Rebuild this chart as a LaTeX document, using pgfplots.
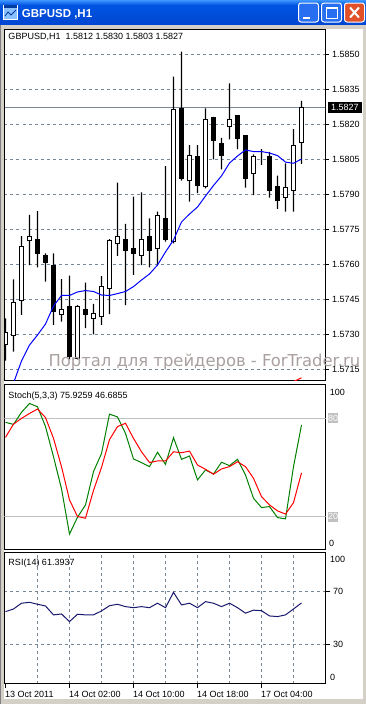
\documentclass[border=0pt]{standalone}
\usepackage{pgfplots}
\pgfplotsset{compat=1.18}
\usepackage{pgfplotstable}
\usepackage{fontspec}
\setmainfont{Liberation Sans}
\newfontfamily\wmfont{DejaVu Sans}
\definecolor{gridc}{RGB}{119,136,153}
\definecolor{framec}{RGB}{212,208,200}
\definecolor{stgreen}{RGB}{0,128,0}
\definecolor{stred}{RGB}{255,0,0}
\definecolor{mablue}{RGB}{0,0,255}
\definecolor{rsicol}{RGB}{25,25,112}
\definecolor{lvl}{RGB}{192,192,192}
\definecolor{wmc}{RGB}{170,160,160}
\definecolor{xpblue}{RGB}{0,84,227}
\definecolor{xplight}{RGB}{61,149,255}
\definecolor{xpdark}{RGB}{0,70,210}
\definecolor{xpbtn}{RGB}{40,110,240}
\definecolor{xpred}{RGB}{225,80,40}

\pgfplotstableread{
i O H L C
0 1.57260 1.57370 1.57190 1.57310
1 1.57298 1.57537 1.57228 1.57437
2 1.57446 1.57722 1.57385 1.57676
3 1.57701 1.57812 1.57598 1.57719
4 1.57708 1.57829 1.57588 1.57648
5 1.57640 1.57648 1.57527 1.57610
6 1.57598 1.57648 1.57342 1.57399
7 1.57388 1.57538 1.57356 1.57409
8 1.57420 1.57553 1.57195 1.57206
9 1.57200 1.57427 1.57195 1.57420
10 1.57410 1.57523 1.57328 1.57388
11 1.57370 1.57432 1.57302 1.57389
12 1.57380 1.57551 1.57342 1.57506
13 1.57499 1.57709 1.57388 1.57701
14 1.57691 1.57950 1.57637 1.57722
15 1.57708 1.57774 1.57427 1.57659
16 1.57670 1.57890 1.57556 1.57648
17 1.57640 1.57909 1.57598 1.57708
18 1.57722 1.57798 1.57588 1.57659
19 1.57668 1.57826 1.57598 1.57811
20 1.57798 1.58021 1.57698 1.57708
21 1.57698 1.58403 1.57691 1.58261
22 1.58268 1.58510 1.57959 1.57966
23 1.57959 1.58111 1.57869 1.58068
24 1.58061 1.58111 1.57905 1.57937
25 1.57932 1.58268 1.57926 1.58221
26 1.58229 1.58231 1.58050 1.58129
27 1.58118 1.58142 1.58007 1.58065
28 1.58189 1.58375 1.58135 1.58221
29 1.58239 1.58239 1.58094 1.58138
30 1.58150 1.58150 1.57929 1.57966
31 1.57990 1.58071 1.57897 1.58061
32 1.58051 1.58094 1.58026 1.58051
33 1.58061 1.58082 1.57886 1.57915
34 1.57933 1.57980 1.57838 1.57876
35 1.57886 1.58033 1.57826 1.57930
36 1.57916 1.58179 1.57826 1.58110
37 1.58120 1.58300 1.58030 1.58270
}\candles

\pgfplotstableread{
i ma k d rsi
0 1.57000 77.6 68.4 54.8
1 1.57094 76.3 76.5 56.8
2 1.57188 83.7 80.0 61.2
3 1.57256 89.1 83.0 61.9
4 1.57299 87.1 85.7 60.4
5 1.57346 75.0 80.5 59.1
6 1.57423 56.6 67.8 52.3
7 1.57468 37.0 50.5 53.0
8 1.57468 9.3 30.2 47.2
9 1.57483 19.6 20.0 52.8
10 1.57489 27.1 19.0 52.3
11 1.57485 47.5 36.0 52.3
12 1.57470 58.5 50.0 55.3
13 1.57468 82.6 67.0 59.3
14 1.57476 80.9 75.0 60.4
15 1.57485 70.8 77.0 58.6
16 1.57506 55.2 67.8 57.8
17 1.57534 53.0 59.6 58.6
18 1.57560 50.5 53.0 57.8
19 1.57598 59.3 54.0 61.2
20 1.57654 51.9 54.0 57.8
21 1.57705 68.2 59.6 69.5
22 1.57782 55.0 59.0 59.9
23 1.57816 57.0 60.0 61.2
24 1.57846 42.4 51.5 57.8
25 1.57893 48.5 48.9 62.4
26 1.57938 46.0 45.9 61.2
27 1.57979 53.2 49.1 58.6
28 1.58034 51.1 50.5 61.2
29 1.58064 55.0 53.5 57.8
30 1.58090 45.4 50.5 53.6
31 1.58083 31.2 43.4 55.9
32 1.58083 25.5 32.2 55.5
33 1.58077 26.1 27.1 51.5
34 1.58066 19.4 23.5 51.0
35 1.58038 18.6 21.5 52.3
36 1.58033 50.5 28.5 56.8
37 1.58051 75.93 46.69 61.39
}\ind

\pgfplotsset{
  mtbase/.style={scale only axis, anchor=north west, width=321pt, xmin=-0.125, xmax=40,
    axis line style={black, line width=1pt},
    every axis plot/.append style={line width=1pt}},
  mtgrid/.style={xtick=\empty, minor xtick={4,8,...,36}, xminorgrids=true,
    minor tick length=0pt,
    major grid style={gridc, line width=1pt, dash pattern=on 3pt off 3pt},
    minor grid style={gridc, line width=1pt, dash pattern=on 3pt off 3pt},
    tick label style={font=\fontsize{9}{10}\selectfont}},
  ovl/.style={mtbase, axis lines=none, ticks=none},
  mainy/.style={height=351.1pt, ymin=10.5, ymax=160.56, at={(4.5pt,-29.3pt)}},
}

\begin{document}
\begin{tikzpicture}
\useasboundingbox (0pt,0pt) rectangle (366pt,-704pt);
% window frame
\fill[framec] (0pt,0pt) rectangle (366pt,-704pt);
\fill[white] (4pt,-29pt) rectangle (363pt,-699pt);
\draw[gray, line width=1pt] (0.5pt,-24pt) -- (0.5pt,-703.5pt);
% title bar
\shade[top color=xplight, bottom color=xpblue] (0pt,0pt) rectangle (366pt,-5pt);
\shade[top color=xpblue, bottom color=xpdark] (0pt,-5pt) rectangle (366pt,-24pt);
% icon
\fill[white] (3pt,-5pt) rectangle (18pt,-20pt);
\fill[xplight!60] (4pt,-8pt) rectangle (17pt,-19pt);
\fill[xpblue!70!black] (4pt,-5pt) rectangle (17pt,-8pt);
\draw[xpblue!70!black, line width=0.8pt] (5pt,-16pt) -- (8pt,-12pt) -- (11pt,-15pt) -- (16pt,-10pt);
\node[anchor=base west, inner sep=0pt, text=white, font=\bfseries\fontsize{11.5}{12}\selectfont] at (21.7pt,-17.3pt) {GBPUSD ,H1};
% buttons
\draw[white, line width=1pt, fill=xpbtn, rounded corners=2.5pt] (298.5pt,-3pt) rectangle (318.5pt,-22pt);
\fill[white] (303pt,-16.5pt) rectangle (310pt,-19pt);
\draw[white, line width=1pt, fill=xpbtn, rounded corners=2.5pt] (321.5pt,-3pt) rectangle (341.5pt,-22pt);
\draw[white, line width=1pt] (326pt,-7.5pt) rectangle (337pt,-18pt);
\draw[white, line width=1.5pt] (326pt,-8pt) -- (337pt,-8pt);
\draw[white, line width=1pt, fill=xpred, rounded corners=2.5pt] (344.5pt,-3pt) rectangle (364.5pt,-22pt);
\draw[white, line width=2pt] (350pt,-7.5pt) -- (359pt,-17.5pt) (359pt,-7.5pt) -- (350pt,-17.5pt);

% ---------- main chart ----------
\begin{axis}[mtbase, mtgrid, mainy,
  ytick={15,30,45,60,75,90,105,120,135,150},
  yticklabels={1.5715,1.5730,1.5745,1.5760,1.5775,1.5790,1.5805,1.5820,1.5835,1.5850},
  ymajorgrids=true, ytick pos=right, yticklabel pos=right, tick align=outside,
  major tick length=3pt, major tick style={black, line width=1pt}]
\addplot[gridc, line width=1pt] table[x=x, y expr={(\thisrow{p}-1.57)*10000}, row sep=\\]{x p\\ -0.125 1.5827\\ 40 1.5827\\};
\end{axis}
% wicks
\begin{axis}[ovl, mainy, ybar stacked, bar width=1.3pt]
\addplot[draw=none, fill=none] table[x=i, y expr={(\thisrow{L}-1.57)*10000}] \candles;
\addplot[draw=none, fill=black] table[x=i, y expr={(\thisrow{H}-\thisrow{L})*10000}] \candles;
\end{axis}
% bodies
\begin{axis}[ovl, mainy, ybar stacked, bar width=4pt]
\addplot[draw=none, fill=none] table[x=i, y expr={(min(\thisrow{O},\thisrow{C})-1.57)*10000}] \candles;
\addplot[draw=black, fill=white] table[x=i, y expr={max(\thisrow{C}-\thisrow{O},0)*10000}] \candles;
\addplot[draw=black, fill=black] table[x=i, y expr={max(\thisrow{O}-\thisrow{C},0)*10000}] \candles;
\end{axis}
% moving average + frame
\begin{axis}[mtbase, mainy, ticks=none]
\addplot[mablue] table[x=i, y expr={(\thisrow{ma}-1.57)*10000}] \ind;
\addplot[stred] table[x=x, y expr={(\thisrow{p}-1.57)*10000}, row sep=\\]{x p\\ 36 1.57100\\ 37 1.57116\\};
\end{axis}

% ---------- stochastic ----------
\begin{axis}[mtbase, mtgrid, at={(4.5pt,-384pt)}, height=165.3pt, ymin=0, ymax=101, ytick=\empty]
\addplot[lvl] coordinates {(-0.125,80) (40,80)};
\addplot[lvl] coordinates {(-0.125,20) (40,20)};
\addplot[stgreen] table[x=i, y=k] \ind;
\addplot[stred] table[x=i, y=d] \ind;
\end{axis}

% ---------- RSI ----------
\begin{axis}[mtbase, mtgrid, at={(4.5pt,-552.3pt)}, height=131.2pt, ymin=0, ymax=100,
  ytick={30,70}, yticklabels={30,70}, ymajorgrids=true, ytick pos=right, yticklabel pos=right,
  xtick={0,8,16,24,32},
  xticklabels={13 Oct 2011,14 Oct 02:00,14 Oct 10:00,14 Oct 18:00,17 Oct 04:00},
  xtick pos=left, tick align=outside, major tick length=4pt,
  major tick style={black, line width=1pt},
  xticklabel style={anchor=north west, inner sep=2pt, xshift=-2.5pt, yshift=-1.5pt}]
\addplot[rsicol] table[x=i, y=rsi] \ind;
\end{axis}

% ---------- texts ----------
\begin{scope}[every node/.style={inner sep=0pt, font=\fontsize{9}{10}\selectfont}]
\node[anchor=base west] at (8.3pt,-39.5pt) {GBPUSD,H1\ \ 1.5812 1.5830 1.5803 1.5827};
\node[anchor=base west] at (8.3pt,-398.3pt) {Stoch(5,3,3) 75.9259 46.6855};
\node[anchor=base west] at (8.3pt,-565.7pt) {RSI(14) 61.3937};
\fill[black] (328pt,-102.3pt) rectangle (362.3pt,-112.8pt);
\node[anchor=base west, text=white] at (331pt,-110.9pt) {1.5827};
\node[anchor=base west] at (329.7pt,-395pt) {100};
\node[anchor=west, fill=lvl, text=white, inner xsep=0pt, minimum height=10pt] at (328pt,-418.3pt) {80};
\node[anchor=west, fill=lvl, text=white, inner xsep=0pt, minimum height=10pt] at (328pt,-516.7pt) {20};
\node[anchor=base west] at (329pt,-546.7pt) {0};
\node[anchor=base west] at (330pt,-562.3pt) {100};
\node[anchor=base west] at (330pt,-680pt) {0};
\end{scope}
\node[anchor=base west, inner sep=0pt, text=wmc, font=\wmfont\fontsize{16.4}{18}\selectfont] at (48.3pt,-366.7pt) {Портал для трейдеров - ForTrader.ru};
\end{tikzpicture}
\end{document}
